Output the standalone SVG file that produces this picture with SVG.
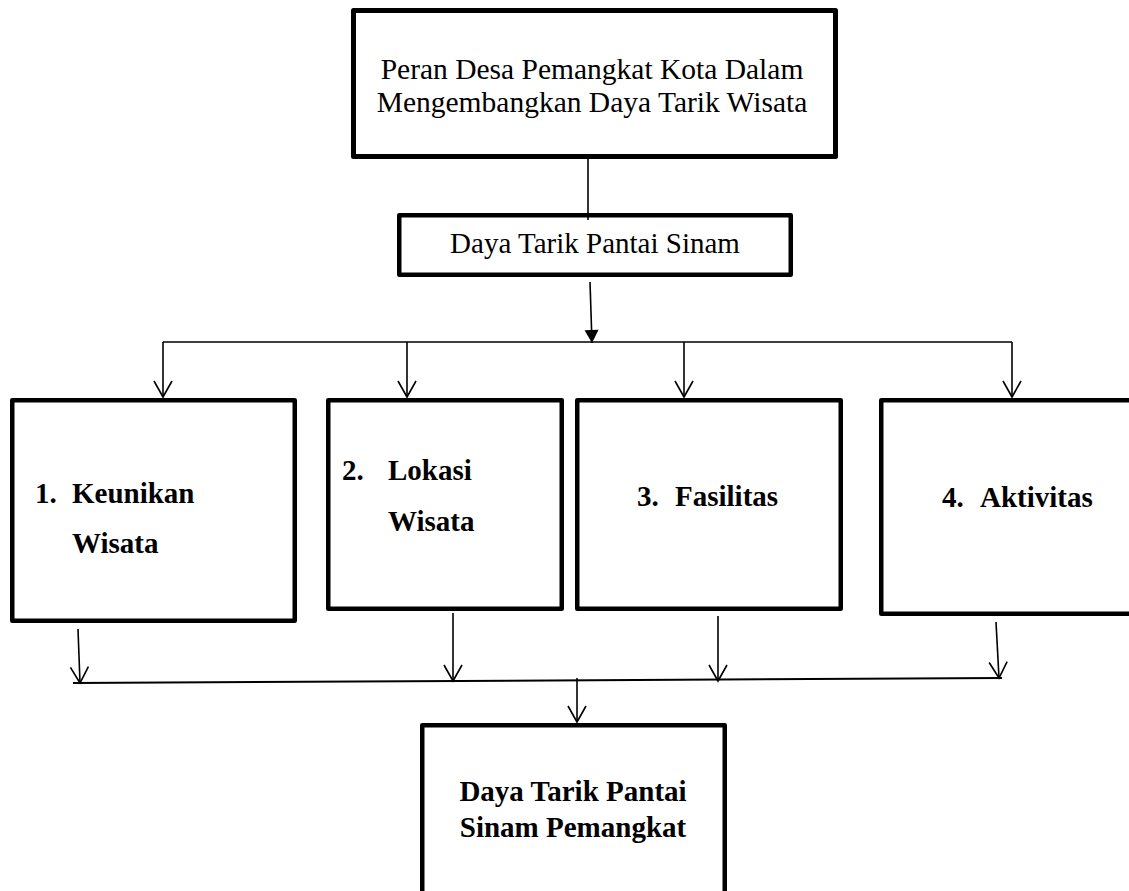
<svg xmlns="http://www.w3.org/2000/svg" width="1129" height="891" viewBox="0 0 1129 891">
<style>
.box{fill:#fff;stroke:#000;stroke-width:4.5;stroke-linejoin:round}
.ln{fill:none;stroke:#000;stroke-width:1.6}
.r{font-family:"Liberation Serif","Times New Roman",serif;font-size:29px;fill:#000}
.b{font-family:"Liberation Serif","Times New Roman",serif;font-size:29px;font-weight:bold;fill:#000}
</style>
<defs>
<marker id="open" markerUnits="userSpaceOnUse" viewBox="-18 -11 20 22" refX="0" refY="0" markerWidth="20" markerHeight="22" orient="auto">
<path d="M-16,-9 L0,0 L-16,9" fill="none" stroke="#000" stroke-width="1.6"/>
</marker>
<marker id="solid" markerUnits="userSpaceOnUse" viewBox="-15 -9 16 18" refX="0" refY="0" markerWidth="16" markerHeight="18" orient="auto">
<path d="M-13,-7 L0,0 L-13,7 Z" fill="#000"/>
</marker>
</defs>
<rect width="1129" height="891" fill="#fff"/>
<g id="peran">
<rect class="box" x="353.5" y="10.5" width="482" height="146" style="stroke-width:5"/>
<text class="r" x="592" y="79" text-anchor="middle" style="font-size:29.5px">Peran Desa Pemangkat Kota Dalam</text>
<text class="r" x="592" y="112" text-anchor="middle" style="font-size:29.5px">Mengembangkan Daya Tarik Wisata</text>
</g>
<g id="daya-tarik">
<rect class="box" x="399.25" y="215.25" width="391.5" height="59.5"/>
<text class="r" x="595" y="253" text-anchor="middle">Daya Tarik Pantai Sinam</text>
</g>
<g id="keunikan">
<rect class="box" x="12.25" y="400.25" width="282.5" height="220.5"/>
<text class="b" x="35" y="503">1.</text>
<text class="b" x="72" y="503">Keunikan</text>
<text class="b" x="72" y="553">Wisata</text>
</g>
<g id="lokasi">
<rect class="box" x="328.25" y="400.25" width="233.5" height="208.5"/>
<text class="b" x="342" y="480">2.</text>
<text class="b" x="388" y="480">Lokasi</text>
<text class="b" x="388" y="531">Wisata</text>
</g>
<g id="fasilitas">
<rect class="box" x="577.25" y="400.25" width="263.5" height="208.5"/>
<text class="b" x="637" y="506">3.</text>
<text class="b" x="675" y="506">Fasilitas</text>
</g>
<g id="aktivitas">
<rect class="box" x="881.25" y="400.25" width="260" height="213.5"/>
<text class="b" x="942" y="507">4.</text>
<text class="b" x="980" y="507">Aktivitas</text>
</g>
<g id="hasil">
<rect class="box" x="422.25" y="725.25" width="302.5" height="200"/>
<text class="b" x="573" y="801" text-anchor="middle">Daya Tarik Pantai</text>
<text class="b" x="573" y="837" text-anchor="middle">Sinam Pemangkat</text>
</g>
<g id="connectors">
<line class="ln" x1="588" y1="159" x2="588" y2="220"/>
<line class="ln" x1="590" y1="282" x2="592" y2="343" marker-end="url(#solid)"/>
<line class="ln" x1="163" y1="342" x2="1012" y2="342"/>
<line class="ln" x1="163" y1="342" x2="163" y2="397" marker-end="url(#open)"/>
<line class="ln" x1="407" y1="342" x2="407" y2="397" marker-end="url(#open)"/>
<line class="ln" x1="684" y1="342" x2="684" y2="397" marker-end="url(#open)"/>
<line class="ln" x1="1012" y1="342" x2="1012" y2="397" marker-end="url(#open)"/>
<line class="ln" x1="78" y1="629" x2="80" y2="683" marker-end="url(#open)"/>
<line class="ln" x1="453" y1="613" x2="453" y2="681" marker-end="url(#open)"/>
<line class="ln" x1="718" y1="616" x2="718" y2="681" marker-end="url(#open)"/>
<line class="ln" x1="996" y1="622" x2="999" y2="678" marker-end="url(#open)"/>
<line class="ln" x1="73" y1="683" x2="1002" y2="678" style="stroke-width:2"/>
<line class="ln" x1="577" y1="678" x2="577" y2="722" marker-end="url(#open)"/>
</g>
</svg>
